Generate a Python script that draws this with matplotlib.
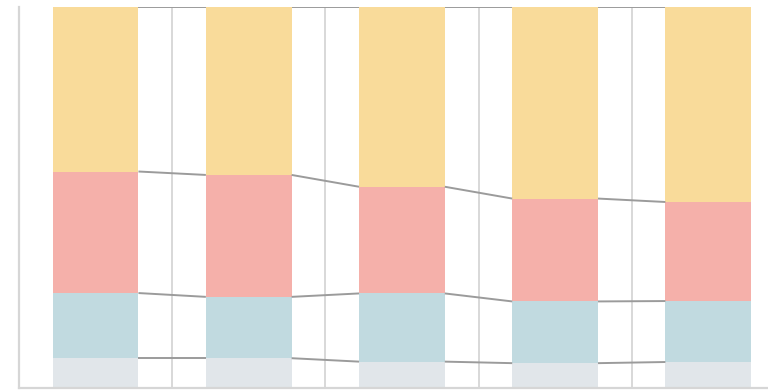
import matplotlib.pyplot as plt
import numpy as np

# Share of each segment per bar (percent, bottom to top)
categories = ['A', 'B', 'C', 'D', 'E']
seg_gray = [7.9, 7.9, 7.0, 6.6, 6.9]
seg_blue = [17.1, 16.1, 17.9, 16.2, 16.0]
seg_red = [31.9, 32.0, 28.0, 27.0, 26.0]
seg_yellow = [43.1, 44.0, 47.1, 50.2, 51.1]

series = [seg_gray, seg_blue, seg_red, seg_yellow]
colors = ['#e1e6ea', '#c1dae0', '#f5b0aa', '#f9db9a']

fig = plt.figure(figsize=(7.68, 3.9), dpi=100)
ax = fig.add_axes([19 / 768, 1.7 / 390, 1 - 19 / 768, 381 / 390])

x = np.arange(len(categories))
width = 0.56
bottom = np.zeros(len(categories))
tops = []
for vals, c in zip(series, colors):
    ax.bar(x, vals, width=width, bottom=bottom, color=c, linewidth=0, zorder=2)
    bottom = bottom + np.array(vals)
    tops.append(bottom.copy())

# connector lines between neighbouring bars
for t in tops:
    for i in range(len(categories) - 1):
        ax.plot([x[i] + width / 2, x[i + 1] - width / 2], [t[i], t[i + 1]],
                color='#9b9b9b', lw=1.4, zorder=3, solid_capstyle='butt')

for g in x[:-1] + 0.5:
    ax.axvline(g, color='#d6d6d6', lw=1.3, zorder=1)

ax.set_xlim(-0.5, 4.39)
ax.set_ylim(0, 100)
ax.set_xticks([])
ax.set_yticks([])
for s in ['top', 'right']:
    ax.spines[s].set_visible(False)
for s in ['left', 'bottom']:
    ax.spines[s].set_color('#d6d6d6')
    ax.spines[s].set_linewidth(1.6)

fig.savefig('out.png', dpi=100)
